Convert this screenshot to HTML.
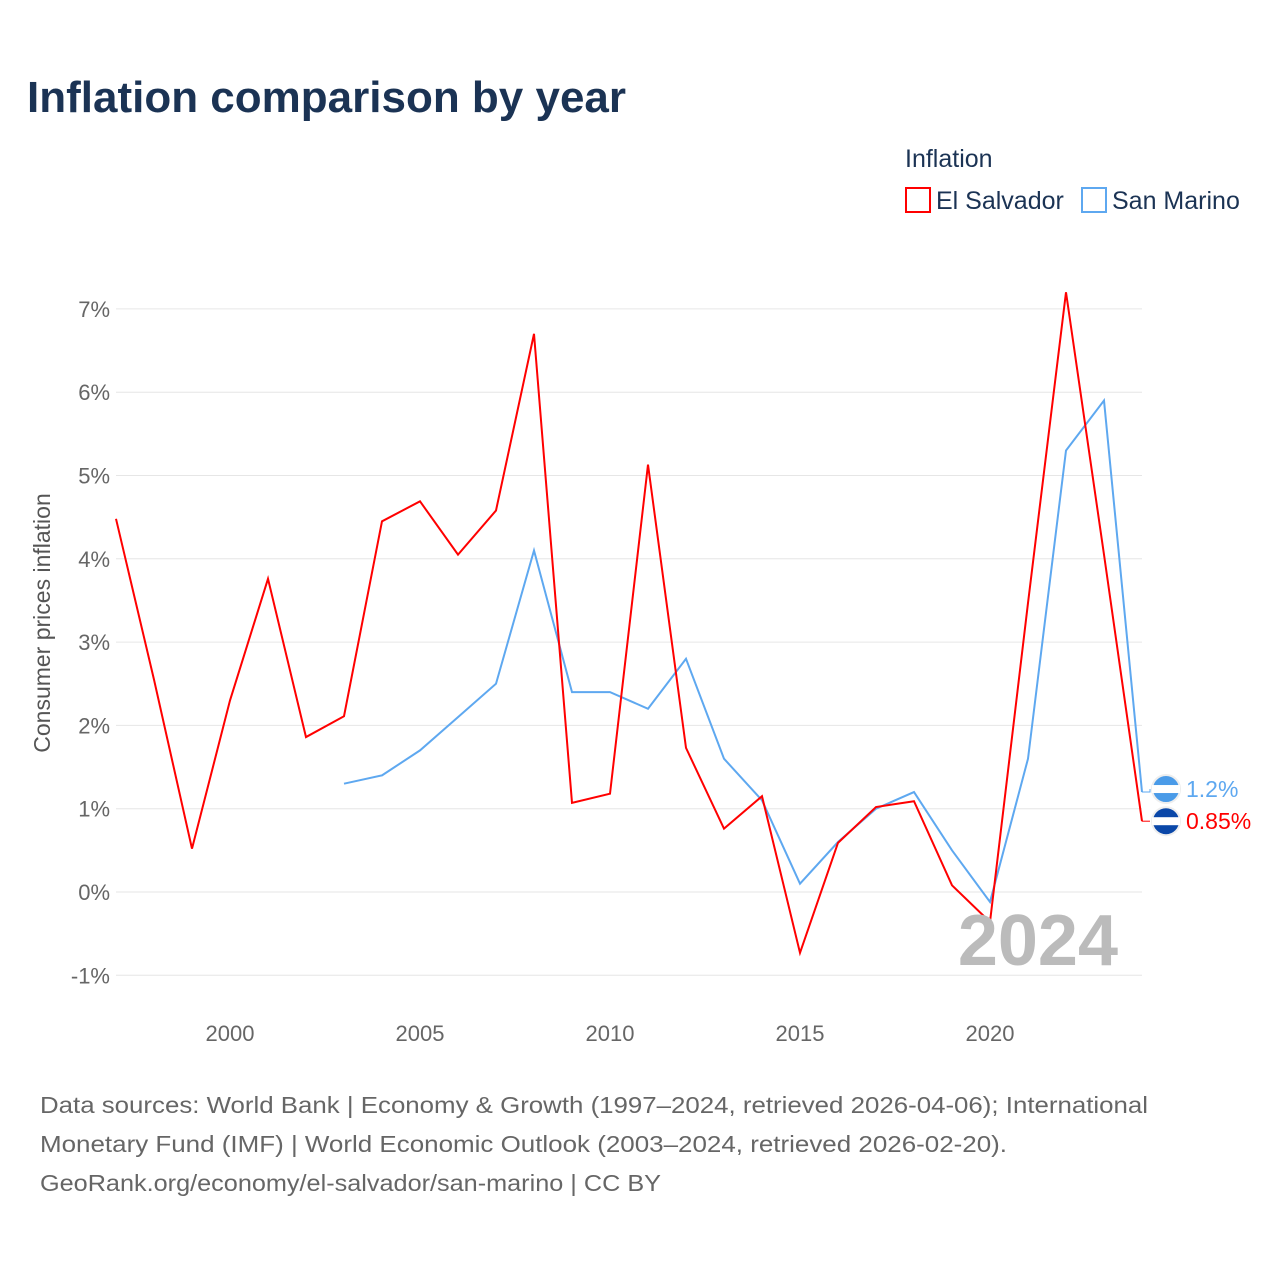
<!DOCTYPE html>
<html><head><meta charset="utf-8">
<style>
body{margin:0;background:#fff;font-family:"Liberation Sans",sans-serif;}
#wrap{position:relative;width:1280px;height:1280px;overflow:hidden;}
</style></head>
<body><div id="wrap">
<svg id="chart" width="1280" height="1280">
<text x="27" y="112" font-size="44" font-weight="bold" fill="#1b3354">Inflation comparison by year</text>
<text x="905" y="167" font-size="25" fill="#1b3354">Inflation</text>
<g><rect x="906" y="188" width="24" height="24" fill="none" stroke="#f00" stroke-width="2"/><text x="936" y="209" font-size="25" fill="#1b3354">El Salvador</text></g>
<g><rect x="1082" y="188" width="24" height="24" fill="none" stroke="#5ea8f0" stroke-width="2"/><text x="1112" y="209" font-size="25" fill="#1b3354">San Marino</text></g>
<text transform="translate(50,623) rotate(-90)" text-anchor="middle" font-size="23" fill="#555">Consumer prices inflation</text>
<g id="grid"></g><g id="series"></g>
<text x="1118" y="965" text-anchor="end" font-size="72" font-weight="bold" fill="#bbb">2024</text>
<g font-size="23" fill="#666">
<text x="40" y="1113" textLength="1108" lengthAdjust="spacingAndGlyphs">Data sources: World Bank | Economy &amp; Growth (1997–2024, retrieved 2026-04-06); International</text>
<text x="40" y="1152" textLength="967" lengthAdjust="spacingAndGlyphs">Monetary Fund (IMF) | World Economic Outlook (2003–2024, retrieved 2026-02-20).</text>
<text x="40" y="1191" textLength="621" lengthAdjust="spacingAndGlyphs">GeoRank.org/economy/el-salvador/san-marino | CC BY</text>
</g>
</svg>
<script>
const years=[1997,1998,1999,2000,2001,2002,2003,2004,2005,2006,2007,2008,2009,2010,2011,2012,2013,2014,2015,2016,2017,2018,2019,2020,2021,2022,2023,2024];
const elSalvador=[4.48,2.55,0.52,2.3,3.76,1.86,2.11,4.45,4.69,4.05,4.58,6.7,1.07,1.18,5.13,1.73,0.76,1.15,-0.73,0.59,1.02,1.09,0.08,-0.36,3.47,7.2,4.05,0.85];
const sanMarinoYears=[2003,2004,2005,2006,2007,2008,2009,2010,2011,2012,2013,2014,2015,2016,2017,2018,2019,2020,2021,2022,2023,2024];
const sanMarino=[1.3,1.4,1.7,2.1,2.5,4.1,2.4,2.4,2.2,2.8,1.6,1.1,0.1,0.6,1.0,1.2,0.5,-0.12,1.6,5.3,5.9,1.2];
const yTicks=[-1,0,1,2,3,4,5,6,7];
const xTicks=[2000,2005,2010,2015,2020];
const NS="http://www.w3.org/2000/svg";
const x=v=>116+(v-1997)*38;
const y=v=>892-v*83.3;
function mk(t,a,p){const e=document.createElementNS(NS,t);for(const k in a)e.setAttribute(k,a[k]);p.appendChild(e);return e;}
const grid=document.getElementById('grid'),ser=document.getElementById('series');
yTicks.forEach(t=>{
 const l=mk('line',{x1:116,x2:1142,y1:y(t),y2:y(t),stroke:'#e6e6e6'},grid);
 
 
 const tx=mk('text',{x:110,y:y(t)+8,'text-anchor':'end','font-size':22,fill:'#666'},grid);
 tx.textContent=t+'%';
 
 
});
xTicks.forEach(t=>{
 const tx=mk('text',{x:x(t),y:1041,'text-anchor':'middle','font-size':22,fill:'#666'},grid);
 tx.textContent=t;
 
 
});
function line(xs,vs,c,name){
 const p=mk('polyline',{points:xs.map((d,i)=>x(d)+','+y(vs[i])).join(' '),fill:'none',stroke:c,'stroke-width':2,'stroke-linejoin':'miter'},ser);
 
 
}
line(sanMarinoYears,sanMarino,'#5ea8f0','san-marino-line');
line(years,elSalvador,'#f00','el-salvador-line');
function endLabel(v,c,txt,name,dy){
 const ly=y(v)+dy;
 const g=mk('g',{},ser);
 
 
 mk('polyline',{points:`${x(2024)},${y(v)} 1150,${y(v)} 1150,${ly}`,fill:'none',stroke:c,'stroke-width':1},g);
 mk('circle',{cx:1166,cy:ly,r:14,fill:c==='#f00'?'#0a47a8':'#4a9be8',stroke:'#eee','stroke-width':2},g);
 mk('rect',{x:1152,y:ly-4,width:28,height:8,fill:'#fff'},g);
 const t=mk('text',{x:1186,y:ly+8,'font-size':23,fill:c},g);t.textContent=txt;
}
endLabel(sanMarino[sanMarino.length-1],'#5ea8f0','1.2%','end-label-san-marino',-3);
endLabel(elSalvador[elSalvador.length-1],'#f00','0.85%','end-label-el-salvador',0);
</script>
</div></body></html>
